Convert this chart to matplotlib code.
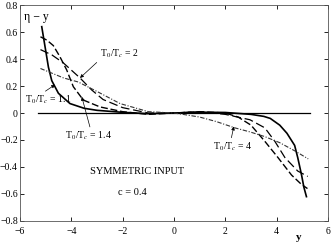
import matplotlib
matplotlib.use("Agg")
from matplotlib import pyplot as plt

plt.rcParams["font.family"] = ["Liberation Serif", "DejaVu Serif"]
plt.rcParams["mathtext.fontset"] = "stix"

# T0/Tc = 1.1 (solid)
y_11 = [-5.15, -5.02, -4.89, -4.76, -4.5, -4.05, -3.5, -3.0, -2.0, -1.0, 0.0,
        1.0, 2.0, 3.0, 3.5, 3.75, 4.12, 4.4, 4.7, 4.82, 4.97, 5.06, 5.16]
v_11 = [0.64, 0.49, 0.34, 0.24, 0.146, 0.07, 0.035, 0.02, 0.005, -0.005, 0.0,
        0.006, 0.004, -0.01, -0.025, -0.04, -0.09, -0.15, -0.24, -0.33, -0.46, -0.55, -0.62]

# T0/Tc = 1.4 (dashed)
y_14 = [-5.2, -4.95, -4.7, -4.45, -4.18, -3.92, -3.53, -2.88, -2.0, -1.0, 0.0,
        1.0, 2.0, 2.5, 3.0, 3.54, 4.05, 4.58, 4.97, 5.2]
v_14 = [0.565, 0.54, 0.5, 0.42, 0.32, 0.195, 0.096, 0.045, 0.01, -0.01, 0.0,
        0.01, 0.0, -0.03, -0.09, -0.21, -0.33, -0.46, -0.53, -0.56]

# T0/Tc = 2 (long dashes)
y_2 = [-5.2, -4.75, -4.3, -3.66, -3.2, -2.76, -2.0, -1.0, 0.0, 1.0, 2.0,
       2.96, 3.54, 3.93, 4.32, 4.82, 5.21]
v_2 = [0.47, 0.43, 0.37, 0.26, 0.17, 0.10, 0.04, 0.0, 0.0, 0.01, -0.01,
       -0.05, -0.11, -0.21, -0.33, -0.43, -0.47]

# T0/Tc = 4 (dash-dot)
y_4 = [-5.2, -4.3, -3.73, -3.0, -2.1, -1.0, 0.0, 0.35, 1.0, 1.66, 2.37,
       2.96, 3.54, 4.12, 4.7, 5.23]
v_4 = [0.33, 0.26, 0.23, 0.16, 0.07, 0.01, 0.0, -0.01, -0.03, -0.064, -0.11,
       -0.14, -0.175, -0.22, -0.28, -0.34]

zero_y = [-5.3, 5.3]
zero_v = [0, 0]

fig = plt.figure(figsize=(3.32, 2.42), dpi=100)
ax = fig.add_axes([0.060, 0.087, 0.928, 0.892])

ax.plot(zero_y, zero_v, color="black", lw=0.9)
ax.plot(y_11, v_11, color="black", lw=1.2, ls="-")
ax.plot(y_14, v_14, color="black", lw=1.0, ls=(0, (5, 2)))
ax.plot(y_2, v_2, color="black", lw=0.9, ls=(0, (7, 3)))
ax.plot(y_4, v_4, color="#333333", lw=0.8, ls=(0, (4, 1.5, 1, 1.5)))

ax.set_xlim(-6, 6)
ax.set_ylim(-0.8, 0.8)
ax.set_xticks([-6, -4, -2, 0, 2, 4, 6])
ax.set_yticks([-0.8, -0.6, -0.4, -0.2, 0, 0.2, 0.4, 0.6, 0.8])
ax.set_yticklabels(["\u22120.8", "\u22120.6", "\u22120.4", "\u22120.2", "0",
                    "0.2", "0.4", "0.6", "0.8"])
ax.set_xticklabels(["\u22126", "\u22124", "\u22122", "0", "2", "4", "6"])
ax.tick_params(direction="in", top=True, right=True, labelsize=7, length=3,
               width=0.6)
ax.tick_params(axis="y", pad=1.5)
ax.tick_params(axis="x", pad=4)
for s in ax.spines.values():
    s.set_linewidth(0.6)
    s.set_color("#555555")

fs = 7
ax.text(-5.85, 0.71, "\u03b7 \u2212 y", fontsize=8.5, va="center")
ax.annotate("T$_0$/T$_c$ = 2", xy=(-3.66, 0.26), xytext=(-2.9, 0.44),
            fontsize=fs, va="center",
            arrowprops=dict(arrowstyle="-|>", lw=0.5, color="black",
                            mutation_scale=5, shrinkA=0, shrinkB=0,
                            relpos=(0.0, 0.0)))
ax.annotate("T$_0$/T$_c$ = 1.1", xy=(-4.63, 0.21), xytext=(-5.8, 0.095),
            fontsize=fs, va="center",
            arrowprops=dict(arrowstyle="-|>", lw=0.5, color="black",
                            mutation_scale=5, shrinkA=0, shrinkB=0,
                            relpos=(0.35, 1.0)))
ax.annotate("T$_0$/T$_c$ = 1.4", xy=(-3.59, 0.12), xytext=(-4.25, -0.17),
            fontsize=fs, va="center",
            arrowprops=dict(arrowstyle="-|>", lw=0.5, color="black",
                            mutation_scale=5, shrinkA=0, shrinkB=0,
                            relpos=(0.55, 1.0)))
ax.annotate("T$_0$/T$_c$ = 4", xy=(2.33, -0.10), xytext=(1.52, -0.25),
            fontsize=fs, va="center",
            arrowprops=dict(arrowstyle="-|>", lw=0.5, color="black",
                            mutation_scale=5, shrinkA=0, shrinkB=0,
                            relpos=(0.45, 1.0)))
ax.text(-3.27, -0.43, "SYMMETRIC INPUT", fontsize=7.5, va="center")
ax.text(-2.18, -0.59, "c = 0.4", fontsize=7.5, va="center")
fig.text(299 / 332, 1 - 238 / 242, "y", fontsize=8, fontweight="bold",
         ha="center", va="center")

fig.savefig("out.png", dpi=100)
